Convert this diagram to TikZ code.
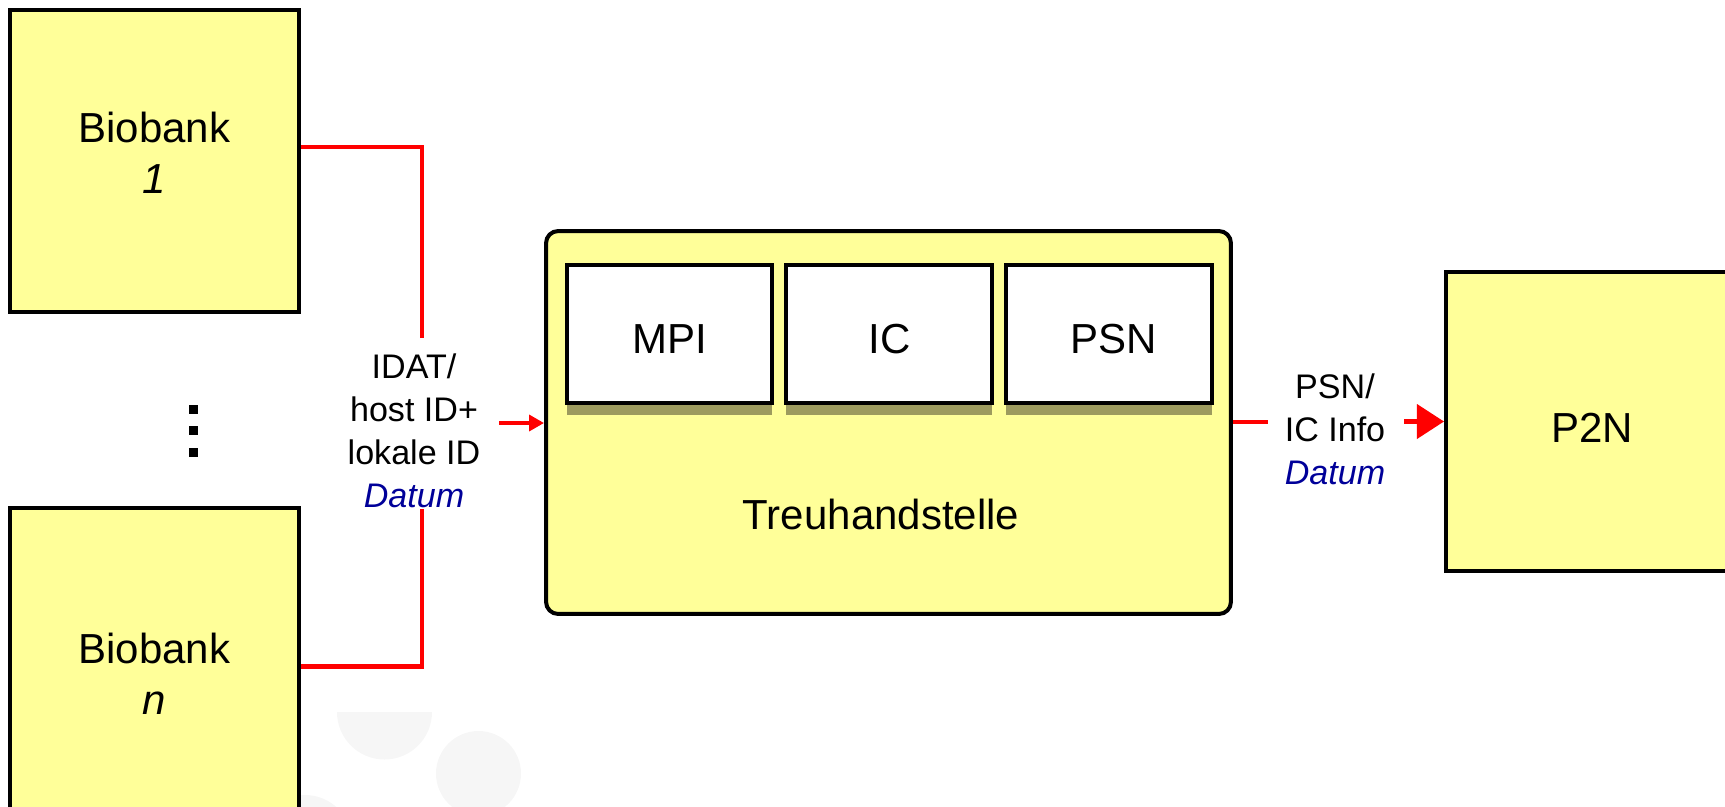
\documentclass[tikz,border=0pt]{standalone}
\usepackage{fontspec}
\setmainfont{Liberation Sans}
\usetikzlibrary{arrows.meta, calc, positioning, shadows}

\definecolor{boxYellow}{RGB}{255,255,153}
\definecolor{shadowOlive}{RGB}{157,155,94}
\definecolor{flowRed}{RGB}{255,0,0}
\definecolor{dateBlue}{RGB}{0,0,153}
\definecolor{wmGray}{RGB}{246,246,246}

\newcommand{\bigfont}{\fontsize{23.9}{29}\selectfont}
\newcommand{\lblfont}{\fontsize{19.4}{24.5}\selectfont}
\newcommand{\datum}{\textcolor{dateBlue}{\itshape Datum}}

\tikzset{
	box/.style={draw=black, fill=boxYellow, line width=0.08cm, align=center, font=\bigfont, inner sep=0pt},
	subbox/.style={box, fill=white, minimum width=4.12cm, minimum height=2.76cm, text height=0.78cm,
		drop shadow={shadow xshift=0pt, shadow yshift=-6.8pt, fill=shadowOlive, opacity=1}},
	lbl/.style={align=center, font=\lblfont, inner sep=0pt},
	flow/.style={draw=flowRed, line width=0.085cm}
}

\begin{document}
\begin{tikzpicture}[x=0.02cm, y=-0.02cm]

	\useasboundingbox (0,0) rectangle (1725,806);
	\clip (0,0) rectangle (1725,806);

	% faint marks in the background
	\fill[wmGray] (337,712) arc (180:0:47.5) -- cycle;
	\fill[wmGray] (478.5,773.5) circle (42.5);
	\fill[wmGray] (305,842) circle (47);

	\node[box, minimum width=5.78cm, minimum height=6.04cm, text depth=0.32cm] (bb1) at (154.5,161) {Biobank\\\textit{1}};
	\node[box, minimum width=5.78cm, minimum height=6.62cm] (bbn) at (154.5,673.5) {Biobank\\\textit{n}};

	\foreach \y in {409,430,452}
		\fill (188.5,\y-4.5) rectangle +(9,9);

	\node[box, rounded corners=0.24cm, minimum width=13.7cm, minimum height=7.66cm] (th) at (888.5,422.5) {};
	\node[font=\bigfont] (thtxt) at (881,514) {Treuhandstelle};

	\node[subbox] (mpi) at (669.5,334) {MPI};
	\node[subbox, right=0.2cm of mpi] (ic) {IC};
	\node[subbox, right=0.2cm of ic] (psn) {\hspace{0.18cm}PSN};

	\node[box, minimum width=5.84cm, minimum height=6cm, text height=0.83cm] (p2n) at (1592,421.5) {P2N};

	\node[lbl] (lblin) at (414,431) {IDAT/\\host ID+\\lokale ID\\\datum};
	\node[lbl] (lblout) at (1335,429) {PSN/\\IC Info\\\datum};

	\coordinate (jt) at (422,338);
	\coordinate (jb) at (422,509);
	\draw[flow] (jt) |- ($ (bb1.east)+(0,-14) $);
	\draw[flow] (jb) |- ($ (bbn.east)+(0,-7) $);

	\coordinate (ain) at (499,423);
	\draw[flow, -{Triangle[length=8.5pt, width=9pt]}] (ain) -- (ain -| th.west);

	\coordinate (aout) at (1268,422);
	\draw[flow] (th.east |- aout) -- (aout);
	\coordinate (ap) at (1404,421.5);
	\draw[flow, -{Triangle[length=15.4pt, width=19.3pt]}] (ap) -- (p2n.west);

\end{tikzpicture}
\end{document}
